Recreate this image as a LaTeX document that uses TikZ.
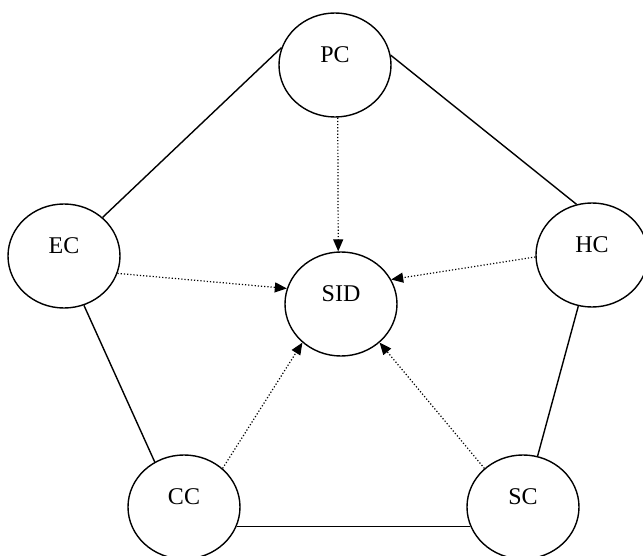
\documentclass[tikz,border=0pt]{standalone}
\usepackage{fontspec}
\setmainfont{Liberation Serif}
\usetikzlibrary{shapes.geometric,arrows.meta}

\tikzset{
  concept/.style={draw, ellipse, line width=1.4pt, inner sep=0pt,
    minimum width=112pt, minimum height=104pt,
    text depth=20pt, font=\fontsize{24}{26}\selectfont},
  link/.style={line width=1.4pt},
  influence/.style={line width=1.2pt, dotted,
    -{Triangle[length=12pt,width=10pt]}}
}

\begin{document}
\begin{tikzpicture}[x=1pt,y=-1pt]
  \useasboundingbox (0,0) rectangle (643,556);

  % concept circles
  \node[concept] (PC)  at (335,65)  {PC};
  \node[concept] (EC)  at (64,256)  {EC};
  \node[concept] (HC)  at (592,255) {HC};
  \node[concept] (SID) at (341,304) {SID};
  \node[concept] (CC)  at (184,507) {CC};
  \node[concept] (SC)  at (523,507) {SC};

  % outer pentagon of solid links
  \draw[link] (PC.162) -- (EC.45);
  \draw[link] (PC.10)  -- (HC.107);
  \draw[link] (EC.292) -- (CC.123);
  \draw[link] (HC.255) -- (SC.74);
  \draw[link] (CC.340) -- (SC.200);

  % dotted influences into SID
  \draw[influence] (PC.273) -- (SID.93);
  \draw[influence] (EC.342) -- (SID.164);
  \draw[influence] (HC.182) -- (SID.26);
  \draw[influence] (CC.45)  -- (SID.225);
  \draw[influence] (SC.135) -- (SID.315);
\end{tikzpicture}
\end{document}
